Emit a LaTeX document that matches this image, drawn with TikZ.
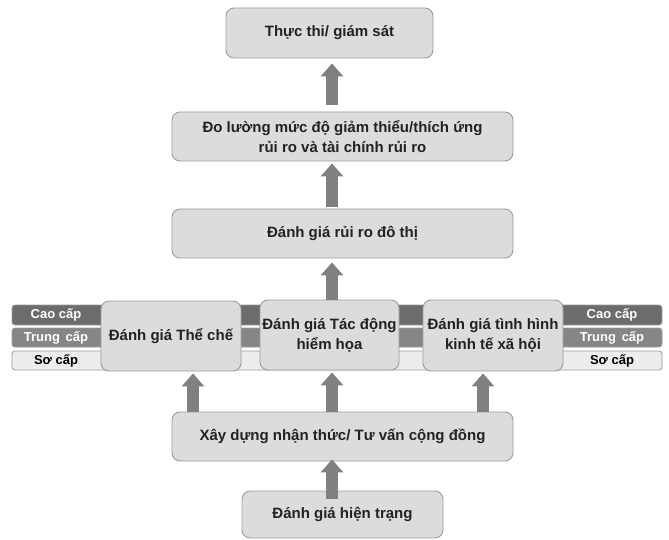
\documentclass[tikz,border=0pt]{standalone}
\usepackage{fontspec}
\setmainfont{Liberation Sans}
\usetikzlibrary{arrows.meta}
\definecolor{boxfill}{HTML}{DCDCDC}
\definecolor{boxline}{HTML}{9C9C9C}
\definecolor{arrowc}{HTML}{808080}
\definecolor{bandA}{HTML}{6C6C6C}
\definecolor{bandB}{HTML}{868686}
\definecolor{bandC}{HTML}{EDEDED}
\definecolor{txt}{HTML}{222222}
\tikzset{
  box/.style={draw=boxline, line width=0.9pt, fill=boxfill, rounded corners=8pt,
    align=center, font=\fontsize{15}{19.5}\selectfont\bfseries, text=txt, inner sep=1pt},
  band/.style={draw=boxline, line width=0.8pt, rounded corners=3pt},
  bandlab/.style={font=\fontsize{13}{15}\selectfont\bfseries, inner sep=0pt},
  uparrow/.style={draw=arrowc, line width=12pt, -{Triangle[width=22pt,length=13pt]}},
}
\begin{document}
\begin{tikzpicture}[x=1pt,y=-1pt]
\useasboundingbox (0,0) rectangle (669,540);
\fill[white] (0,0) rectangle (669,540);
% bands
\draw[band, fill=bandA] (12,305) rectangle (662,325);
\draw[band, fill=bandB] (12,328) rectangle (662,347);
\draw[band, fill=bandC] (12,351) rectangle (662,370);
\node[bandlab, text=white] (cl) at (56,315) {Cao cấp};
\node[bandlab, text=white] (tl) at (56,337.5) {Trung\, cấp};
\node[bandlab, text=black] (sl) at (56,360.5) {Sơ cấp};
\node[bandlab, text=white] (cr) at (612,315) {Cao cấp};
\node[bandlab, text=white] (tr) at (612,337.5) {Trung\, cấp};
\node[bandlab, text=black] (sr) at (612,360.5) {Sơ cấp};
% boxes
\node[box, minimum width=207pt, minimum height=50pt] (b1) at (329.5,33) {Thực thi/ giám sát};
\node[box, minimum width=341pt, minimum height=49pt] (b2) at (342.5,136.5) {Đo lường mức độ giảm thiểu/thích ứng\\rủi ro và tài chính rủi ro};
\node[box, minimum width=341pt, minimum height=49pt] (b3) at (342.5,233.5) {Đánh giá rủi ro đô thị};
\node[box, minimum width=140pt, minimum height=70pt] (m1) at (171,336) {Đánh giá Thể chế};
\node[box, minimum width=139pt, minimum height=70pt] (m2) at (329.5,335) {Đánh giá Tác động\\hiểm họa};
\node[box, minimum width=140pt, minimum height=71pt] (m3) at (493,335.5) {Đánh giá tình hình\\kinh tế xã hội};
\node[box, minimum width=341pt, minimum height=49pt] (b4) at (342.5,436.5) {Xây dựng nhận thức/ Tư vấn cộng đồng};
\node[box, minimum width=201pt, minimum height=47pt] (b5) at (342.5,514.5) {Đánh giá hiện trạng};
% arrow columns
\coordinate (ax) at (332,0);
\coordinate (axl) at (193,0);
\coordinate (axr) at (483,0);
% arrows
\draw[uparrow, shorten <=7pt, shorten >=5pt] (b2.north -| ax) -- (b1.south -| ax);
\draw[uparrow, shorten <=2pt, shorten >=2pt] (b3.north -| ax) -- (b2.south -| ax);
\draw[uparrow, shorten <=0pt, shorten >=4pt] (m2.north -| ax) -- (b3.south -| ax);
\draw[uparrow, shorten >=2pt] (b4.north -| axl) -- (m1.south -| axl);
\draw[uparrow, shorten >=2pt] (b4.north -| ax) -- (m2.south -| ax);
\draw[uparrow, shorten >=2pt] (b4.north -| axr) -- (m3.south -| axr);
\draw[uparrow, shorten <=-8pt, shorten >=-2pt] (b5.north -| ax) -- (b4.south -| ax);
\end{tikzpicture}
\end{document}
